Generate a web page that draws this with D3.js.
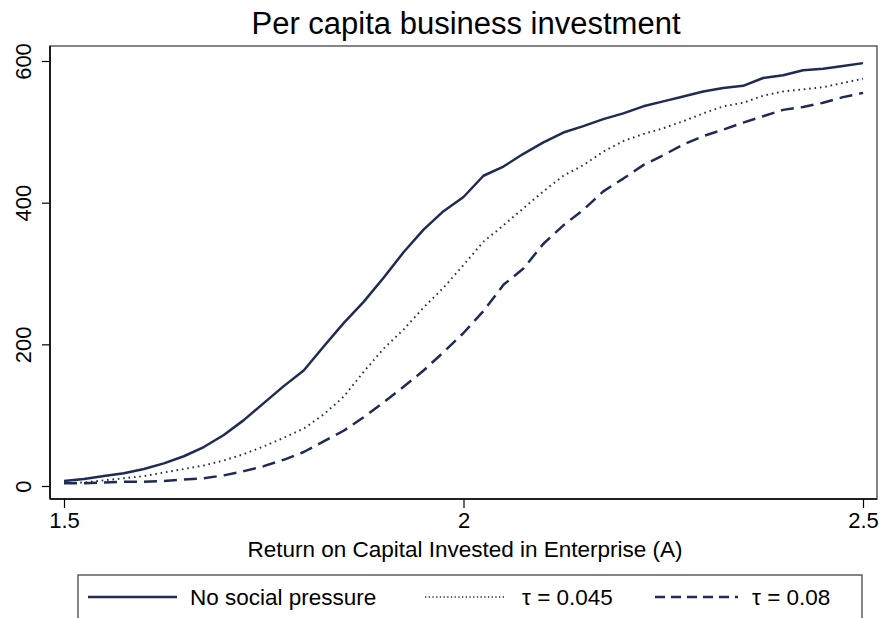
<!DOCTYPE html>
<html>
<head>
<meta charset="utf-8">
<script src="https://cdn.jsdelivr.net/npm/d3@7"></script>
<style>
  html, body { margin: 0; padding: 0; background: #fff; }
  svg { display: block; font-family: Arial, "Liberation Sans", sans-serif; }
</style>
</head>
<body>
<svg id="chart" width="884" height="618"></svg>
<script>
// ---- data ----
const returnA = [1.5,1.525,1.55,1.575,1.6,1.625,1.65,1.675,1.7,1.725,1.75,1.775,1.8,1.825,1.85,1.875,1.9,1.925,1.95,1.975,2.0,2.025,2.05,2.075,2.1,2.125,2.15,2.175,2.2,2.225,2.25,2.275,2.3,2.325,2.35,2.375,2.4,2.425,2.45,2.475,2.5];
const noPressure = [7,10,14,18,24,32,42,55,72,93,117,141,163,197,230,260,294,330,362,388,408,438,451,469,485,499,508,518,526,536,543,550,557,562,565,576,580,587,589,593,597];
const tau045 = [4,5,8,11,14,19,24,29,36,45,56,68,81,101,126,161,194,221,252,280,312,345,368,392,416,438,453,472,487,497,505,515,526,536,541,551,557,560,563,569,575];
const tau08 = [4,4,5,6,6,7,9,11,15,21,28,37,48,63,78,97,118,140,163,189,216,247,284,307,342,368,390,416,434,453,467,482,494,503,513,522,531,535,541,549,555];
const xTicks = [1.5, 2, 2.5];
const yTicks = [0, 200, 400, 600];
const seriesNames = ["No social pressure", "\u03c4 = 0.045", "\u03c4 = 0.08"];

const lineColor = "#1e2b55";
const styles = [
  {width: 2.5, dash: null},
  {width: 1.9, dash: "1.6,3.8"},
  {width: 2.5, dash: "13,7"}
];
const legendDash = [null, "1.3,2.4", "10,6"];

const svg = d3.select("#chart");
const plot = {left: 50, right: 877, top: 46, bottom: 499};

const x = d3.scaleLinear().domain([1.5, 2.5]).range([64, 863]);
const y = d3.scaleLinear().domain([0, 600]).range([486, 61]);

// frame (top & right)
svg.append("rect")
  .attr("x", plot.left).attr("y", plot.top)
  .attr("width", plot.right - plot.left).attr("height", plot.bottom - plot.top)
  .attr("fill", "none").attr("stroke", "#5e5e5e").attr("stroke-width", 1.5);

// title
svg.append("text")
  .attr("x", 466).attr("y", 34)
  .attr("text-anchor", "middle")
  .attr("font-size", 31)
  .attr("fill", "#000")
  .text("Per capita business investment");

// series
const data = [noPressure, tau045, tau08];
const line = d3.line().x((d, i) => x(returnA[i])).y(d => y(d));
data.forEach((s, k) => {
  svg.append("path")
    .datum(s)
    .attr("d", line)
    .attr("fill", "none")
    .attr("stroke", lineColor)
    .attr("stroke-width", styles[k].width)
    .attr("stroke-dasharray", styles[k].dash)
    .attr("stroke-linejoin", "round");
});

// x axis
const xAxis = svg.append("g")
  .attr("transform", `translate(0,${plot.bottom})`)
  .call(d3.axisBottom(x).tickValues(xTicks).tickFormat(d3.format("")).tickSize(9).tickPadding(4));
xAxis.select(".domain").attr("d", `M${plot.left},0H${plot.right}`).attr("stroke", "#000").attr("stroke-width", 1.6);
xAxis.selectAll(".tick line").attr("stroke", "#000").attr("stroke-width", 1.2);
xAxis.selectAll(".tick text").attr("font-size", 22).attr("fill", "#000")
  .attr("font-family", "Arial, 'Liberation Sans', sans-serif");

// y axis
const yAxis = svg.append("g")
  .attr("transform", `translate(${plot.left},0)`)
  .call(d3.axisLeft(y).tickValues(yTicks).tickFormat(d3.format("")).tickSize(8));
yAxis.select(".domain").attr("d", `M0,${plot.top}V${plot.bottom}`).attr("stroke", "#000").attr("stroke-width", 1.6);
yAxis.selectAll(".tick line").attr("stroke", "#000").attr("stroke-width", 1.2);
yAxis.selectAll(".tick text")
  .attr("font-size", 22).attr("fill", "#000")
  .attr("font-family", "Arial, 'Liberation Sans', sans-serif")
  .attr("x", null).attr("dy", null)
  .attr("text-anchor", "middle")
  .attr("transform", "translate(-19,0) rotate(-90)");

// x axis title
svg.append("text")
  .attr("x", 465).attr("y", 557)
  .attr("text-anchor", "middle")
  .attr("font-size", 22.5)
  .attr("fill", "#000")
  .text("Return on Capital Invested in Enterprise (A)");

// legend
const lg = svg.append("g");
lg.append("rect")
  .attr("x", 78).attr("y", 575)
  .attr("width", 784).attr("height", 60)
  .attr("fill", "#fff").attr("stroke", "#5e5e5e").attr("stroke-width", 1.5);
const legendItems = [
  {x0: 88, x1: 177, tx: 190},
  {x0: 425, x1: 505, tx: 522},
  {x0: 655, x1: 738, tx: 752}
];
legendItems.forEach((it, k) => {
  lg.append("line")
    .attr("x1", it.x0).attr("x2", it.x1)
    .attr("y1", 597).attr("y2", 597)
    .attr("stroke", lineColor)
    .attr("stroke-width", k === 1 ? 1.4 : 2.3)
    .attr("stroke-dasharray", legendDash[k]);
  lg.append("text")
    .attr("x", it.tx).attr("y", 605)
    .attr("font-size", 22.5)
    .attr("fill", "#000")
    .text(seriesNames[k]);
});
</script>
</body>
</html>
